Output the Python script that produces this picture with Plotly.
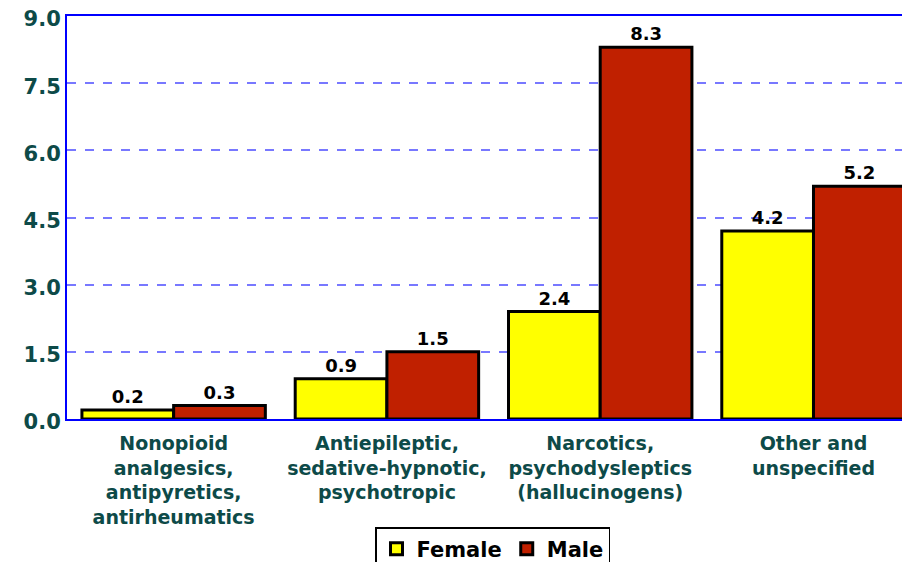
import plotly.graph_objects as go

categories = [
    "Nonopioid<br>analgesics,<br>antipyretics,<br>antirheumatics",
    "Antiepileptic,<br>sedative-hypnotic,<br>psychotropic",
    "Narcotics,<br>psychodysleptics<br>(hallucinogens)",
    "Other and<br>unspecified",
]
female = [0.2, 0.9, 2.4, 4.2]
male = [0.3, 1.5, 8.3, 5.2]
y_ticks = [0, 1.5, 3.0, 4.5, 6.0, 7.5, 9.0]
y_tick_labels = ["0.0", "1.5", "3.0", "4.5", "6.0", "7.5", "9.0"]

FONT = "DejaVu Sans"
TEAL = "#0d4a48"

fig = go.Figure()
fig.add_trace(go.Bar(
    name="Female", x=categories, y=female,
    marker=dict(color="#ffff00", line=dict(color="black", width=3)),
    text=[f"{v:.1f}" for v in female], textposition="outside",
    textfont=dict(family=FONT, size=18, color="black", weight="bold"),
    cliponaxis=False,
))
fig.add_trace(go.Bar(
    name="Male", x=categories, y=male,
    marker=dict(color="#c02000", line=dict(color="black", width=3)),
    text=[f"{v:.1f}" for v in male], textposition="outside",
    textfont=dict(family=FONT, size=18, color="black", weight="bold"),
    cliponaxis=False,
))

fig.update_layout(
    width=910, height=562,
    margin=dict(l=59, r=0, t=8, b=151, autoexpand=False),
    paper_bgcolor="white", plot_bgcolor="white",
    barmode="group", bargap=0.14, bargroupgap=0,
    font=dict(family=FONT),
    showlegend=True,
    legend=dict(
        orientation="h", x=0.5, xanchor="center", y=-0.268, yanchor="top",
        bordercolor="black", borderwidth=1.5, bgcolor="white",
        font=dict(family=FONT, size=21, color="black", weight="bold"),
        itemwidth=30,
    ),
    xaxis=dict(
        range=[-0.5, 3.49], showline=True, linecolor="#0000ff", linewidth=2,
        mirror=True, ticks="", showgrid=False, automargin=False,
        ticklabelstandoff=6,
        tickfont=dict(family=FONT, size=19, color=TEAL, weight="bold"),
    ),
    yaxis=dict(
        range=[0, 9], tickvals=y_ticks, ticktext=y_tick_labels,
        showline=True, linecolor="#0000ff", linewidth=2, automargin=False,
        showgrid=True, gridcolor="#7878ff", griddash="dash", gridwidth=1.5,
        zeroline=False, ticks="", ticklabeloverflow="allow",
        ticklabelshift=3,
        tickfont=dict(family=FONT, size=21, color=TEAL, weight="bold"),
    ),
)

fig.write_html("out.html")
